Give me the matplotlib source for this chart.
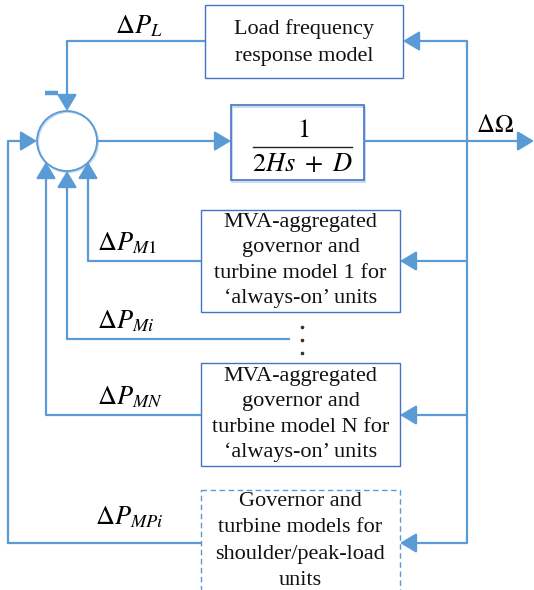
import matplotlib
matplotlib.use("Agg")
import matplotlib.pyplot as plt
from matplotlib.patches import Rectangle, Circle

plt.rcParams["font.family"] = ["Liberation Serif", "DejaVu Serif"]
plt.rcParams["mathtext.fontset"] = "stix"

BLUE = "#5B9BD5"
EDGE = "#4472C4"

# block texts
load_lines = ["Load frequency", "response model"]
gov1_lines = ["MVA-aggregated", "governor and", "turbine model 1 for", "\u2018always-on\u2019 units"]
govn_lines = ["MVA-aggregated", "governor and", "turbine model N for", "\u2018always-on\u2019 units"]
peak_lines = ["Governor and", "turbine models for", "shoulder/peak-load", "units"]
signal_labels = [r"$\Delta P_L$", r"$\Delta P_{M1}$", r"$\Delta P_{Mi}$", r"$\Delta P_{MN}$", r"$\Delta P_{MPi}$"]
out_label = r"$\Delta\Omega$"

fig = plt.figure(figsize=(5.34, 5.9), dpi=100)
ax = fig.add_axes([0, 0, 1, 1])
ax.set_xlim(0, 534)
ax.set_ylim(590, 0)
ax.axis("off")


def line(xs, ys):
    ax.plot(xs, ys, color=BLUE, lw=1.6, solid_capstyle="butt", solid_joinstyle="miter")


def arrow(x0, y0, x1, y1):
    ax.annotate("", xy=(x1, y1), xytext=(x0, y0),
                arrowprops=dict(arrowstyle="-|>,head_length=0.5,head_width=0.3", color=BLUE, lw=1.6,
                                mutation_scale=20, shrinkA=0, shrinkB=0))


def block(x0, y0, x1, y1, lines, y_first, step, dashed=False):
    ax.add_patch(Rectangle((x0, y0), x1 - x0, y1 - y0, fill=False, ec=EDGE if not dashed else BLUE,
                           lw=1.0, ls=(0, (4, 2.5)) if dashed else "-"))
    cx = (x0 + x1) / 2
    for i, s in enumerate(lines):
        ax.text(cx, y_first + i * step, s, ha="center", va="center", fontsize=16, color="#111111")


# blocks
block(205, 5, 403, 78, load_lines, 29, 27)
block(201, 210, 400, 312, gov1_lines, 222, 25.5)
block(201, 363, 400, 466, govn_lines, 376, 25.5)
block(201, 490, 400, 600, peak_lines, 501, 26.5, dashed=True)

# plant block 1/(2Hs+D)
ax.add_patch(Rectangle((232, 107), 133, 75, fill=False, ec="#BDD7EE", lw=1.2))
ax.add_patch(Rectangle((231, 105), 133, 75, fill=False, ec=EDGE, lw=1.2))
ax.text(303, 131, "$1$", ha="center", va="center", fontsize=19)
ax.plot([253, 352], [147, 147], color="#222222", lw=1.0)
ax.text(303, 165, r"$2Hs\ +\ D$", ha="center", va="center", fontsize=19)

# summing junction
ax.add_patch(Circle((68, 142), 30, fill=False, ec="#BDD7EE", lw=1.5))
ax.add_patch(Circle((67, 141), 30, fill=False, ec=BLUE, lw=1.3))
ax.plot([45, 58], [93, 93], color=BLUE, lw=3.2, solid_capstyle="butt")

# load feedback
line([205, 67], [41, 41])
arrow(67, 41, 67, 111)

# forward path
arrow(97, 141, 231, 141)
arrow(364, 141, 534, 141)

# right distribution bus
line([467, 467], [41, 543])
arrow(467, 41, 403, 41)
arrow(467, 261, 400, 261)
arrow(467, 415, 400, 415)
arrow(467, 543, 400, 543)

# governor feedbacks into the junction
line([201, 88], [261, 261])
arrow(88, 261, 88, 162)
line([290, 67], [339, 339])
arrow(67, 339, 67, 171)
line([201, 46], [415, 415])
arrow(46, 415, 46, 162)
line([201, 8, 8], [543, 543, 141])
arrow(8, 141, 37, 141)

# vertical dots
ax.plot([302, 302, 302], [327, 340, 353], ls="none", marker="o", ms=1.6, color="#333333")

# signal labels
label_pos = [(115, 33), (97, 250), (97, 328), (97, 404), (95, 524)]
for s, (x, y) in zip(signal_labels, label_pos):
    ax.text(x, y, s, ha="left", va="baseline", fontsize=19)
ax.text(476, 132, out_label, ha="left", va="baseline", fontsize=18)

fig.savefig("out.png", dpi=100)
